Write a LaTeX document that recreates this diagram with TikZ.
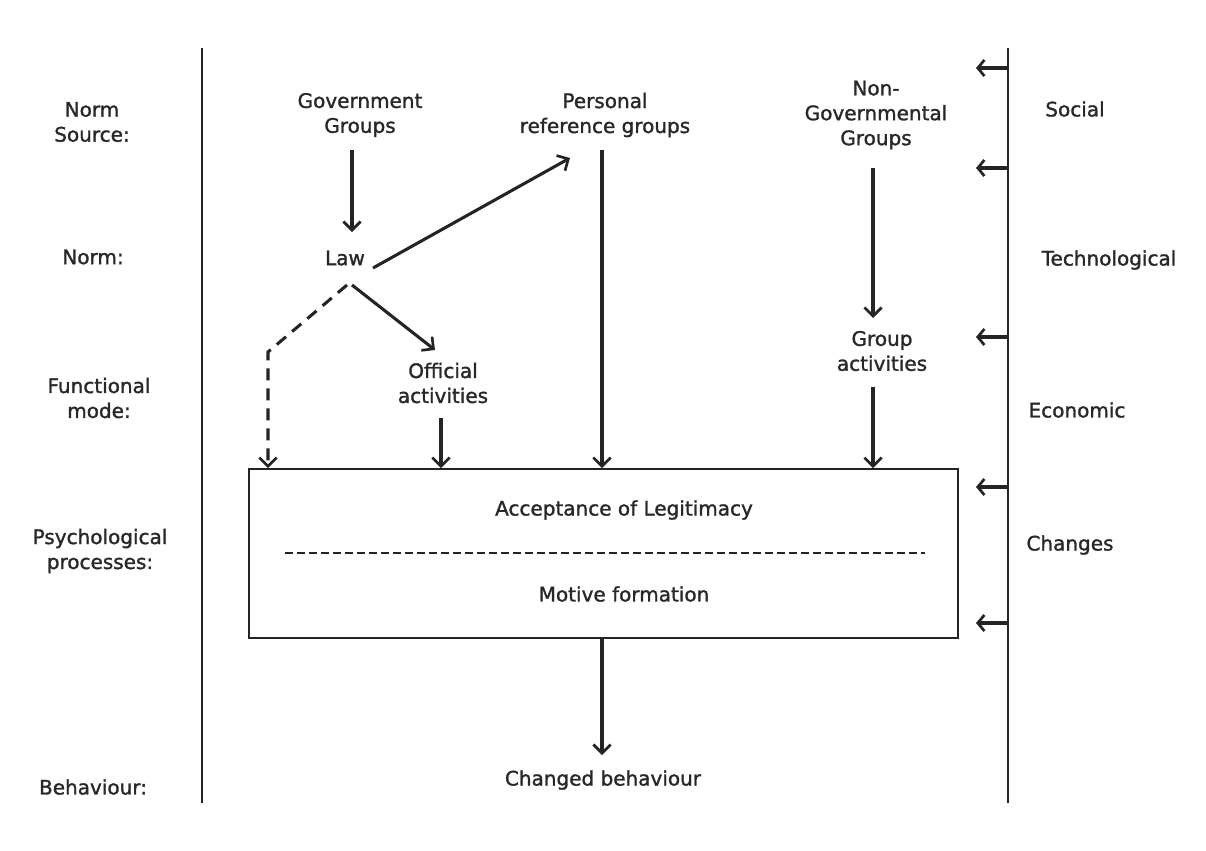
\documentclass[tikz,border=0pt]{standalone}
\usepackage{fontspec}
\setmainfont{DejaVu Sans}[FakeBold=1.4]
\usetikzlibrary{arrows.meta}
\definecolor{ink}{HTML}{242424}
\definecolor{txt}{HTML}{282828}
\tikzset{
  lbl/.style={text=txt, align=center, inner sep=0pt, font=\fontsize{15}{18.7}\selectfont},
  arr/.style={draw=ink, line width=2.3pt, -{Straight Barb[length=6.5pt,width=13pt,line width=2pt]}},
  sidearr/.style={draw=ink, line width=2.3pt, -{Straight Barb[length=5pt,width=12pt,line width=2pt]}},
  dasharr/.style={arr, dash pattern=on 9pt off 6pt},
  rule/.style={draw=ink, line width=1.6pt},
}
\begin{document}
\begin{tikzpicture}[x=0.75pt,y=-0.75pt]
\useasboundingbox (0,0) rectangle (1206,850);
\fill[white] (0,0) rectangle (1206,850);
% frame lines
\coordinate (lt) at (202,48); \coordinate (lb) at (202,803);
\coordinate (rt) at (1008,48); \coordinate (rb) at (1008,803);
\draw[rule] (lt) -- (lb);
\draw[rule] (rt) -- (rb);
% left labels
\node[lbl] (ls) at (92,122) {Norm\\Source:};
\node[lbl] (ln) at (93,257) {Norm:};
\node[lbl] (lf) at (99,398) {Functional\\mode:};
\node[lbl] (lp) at (100,551) {Psychological\\processes:};
\node[lbl] (lbh) at (93,787) {Behaviour:};
% right labels
\node[lbl] (rs) at (1075,109) {Social};
\node[lbl] (rtk) at (1109,260) {Technological};
\node[lbl] (re) at (1077,410) {Economic};
\node[lbl] (rc) at (1070,545) {Changes};
% right arrows
\foreach \yy/\nm in {68/a,168/b,337/c,487/d,623/e}{
  \coordinate (rs\nm) at (1008,\yy);
  \coordinate (re\nm) at (976,\yy);
  \draw[sidearr] (rs\nm) -- (re\nm);
}
% main nodes
\node[lbl] (gov) at (360,115) {Government\\Groups};
\node[lbl] (law) at (345,258) {Law};
\node[lbl] (pers) at (605,115) {Personal\\reference groups};
\node[lbl] (ngo) at (876,115) {Non-\\Governmental\\Groups};
\node[lbl] (grp) at (882,351) {Group\\activities};
\node[lbl] (off) at (443,383) {Official\\activities};
\node[draw=ink, line width=1.2pt, minimum width=531.75pt, minimum height=126.75pt, inner sep=0pt] (box) at (603.5,553.5) {};
\node[lbl] (acc) at (624,510) {Acceptance of Legitimacy};
\node[lbl] (mot) at (624,594) {Motive formation};
\node[lbl] (chg) at (603,780) {Changed behaviour};
\coordinate (dl) at (285,553); \coordinate (dr) at (925,553);
\draw[draw=ink, line width=1.3pt, dash pattern=on 6pt off 3pt] (dl) -- (dr);
% arrows
\coordinate (govb) at (352,150);
\coordinate (lawt) at (352,232);
\draw[arr] (govb) -- (lawt);
\coordinate (lawne) at (373,268);
\coordinate (perstip) at (570,158);
\draw[arr] (lawne) -- (perstip);
\coordinate (perst) at (602,150);
\draw[arr] (perst) -- (perst |- box.north);
\coordinate (ngot) at (873,168);
\coordinate (grpt) at (873,318);
\draw[arr] (ngot) -- (grpt);
\coordinate (grpb) at (873,387);
\draw[arr] (grpb) -- (grpb |- box.north);
\coordinate (laws) at (352,285);
\coordinate (offt) at (435,350);
\draw[arr] (laws) -- (offt);
\coordinate (offb) at (441,418);
\draw[arr] (offb) -- (offb |- box.north);
\coordinate (lawsw) at (347,285);
\coordinate (bend) at (268,352);
\draw[dasharr] (lawsw) -- (bend) -- (bend |- box.north);
\coordinate (chgt) at (602,755);
\draw[arr] (box.south -| chgt) -- (chgt);
\end{tikzpicture}
\end{document}
